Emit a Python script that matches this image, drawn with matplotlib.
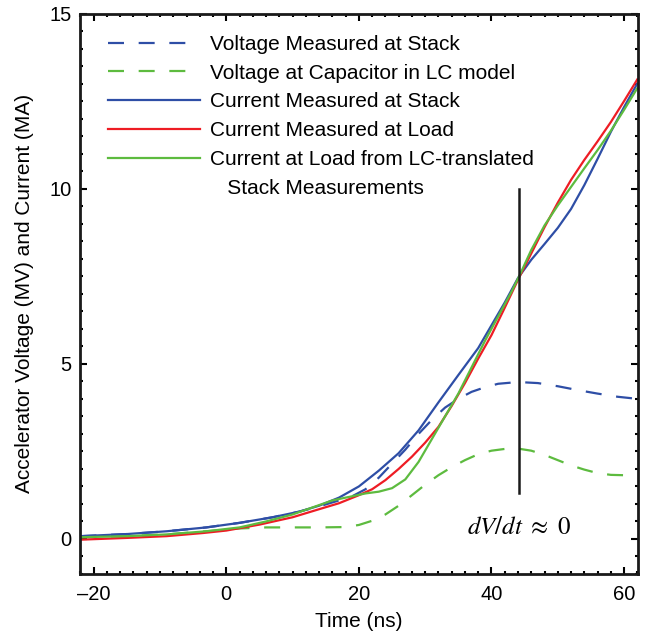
import matplotlib
matplotlib.use('Agg')
import matplotlib.pyplot as plt
from matplotlib.ticker import MultipleLocator, FuncFormatter

plt.rcParams['font.family'] = ['Liberation Sans', 'DejaVu Sans']
plt.rcParams['mathtext.fontset'] = 'stix'

# voltage measured at stack (blue dashed)
t_vstack = [-22, -15, -9, -3, 2, 7, 11, 14, 17, 19, 21, 23, 25, 27, 29, 31, 33, 35,
            37, 39, 41, 44, 47, 50, 53, 56, 59, 62]
v_stack = [0.08, 0.14, 0.22, 0.33, 0.46, 0.62, 0.78, 0.93, 1.1, 1.22, 1.42, 1.75, 2.15,
           2.55, 3.0, 3.4, 3.75, 4.0, 4.2, 4.33, 4.43, 4.48, 4.45, 4.36, 4.25, 4.15, 4.06, 4.0]

# voltage at capacitor in LC model (green dashed)
t_vcap = [-22, -15, -9, -3, 2, 6, 10, 14, 18, 20, 22, 24, 26, 28, 30, 32, 34, 36, 38,
          40, 42, 44, 46, 48, 50, 52, 54, 56, 58, 60, 62]
v_cap = [0.05, 0.08, 0.13, 0.22, 0.3, 0.33, 0.33, 0.33, 0.34, 0.4, 0.52, 0.7, 0.95, 1.25,
         1.55, 1.82, 2.05, 2.25, 2.42, 2.52, 2.57, 2.58, 2.52, 2.4, 2.25, 2.1, 1.98, 1.88,
         1.83, 1.82, 1.84]

# current measured at stack (blue)
t_istack = [-22, -15, -9, -3, 2, 7, 11, 14, 17, 20, 23, 26, 29, 32, 35, 38, 40, 42, 44,
            46, 48, 50, 52, 54, 56, 58, 60, 62]
i_stack = [0.08, 0.14, 0.22, 0.33, 0.46, 0.62, 0.78, 0.95, 1.18, 1.5, 1.95, 2.45, 3.1,
           3.9, 4.68, 5.45, 6.1, 6.75, 7.45, 7.97, 8.42, 8.88, 9.42, 10.1, 10.85, 11.62,
           12.33, 13.0]

# current measured at load (red)
t_iload = [-22, -15, -9, -3.5, 0, 5, 10, 14, 17, 20, 22, 24, 26, 28, 30, 32, 34, 36, 38,
           40, 42, 44, 46, 48, 50, 52, 54, 56, 58, 60, 62]
i_load = [-0.02, 0.03, 0.08, 0.17, 0.24, 0.41, 0.62, 0.85, 1.02, 1.25, 1.42, 1.68, 2.0,
          2.35, 2.75, 3.2, 3.8, 4.45, 5.15, 5.82, 6.6, 7.4, 8.15, 8.9, 9.6, 10.25, 10.82,
          11.35, 11.9, 12.5, 13.12]

# current at load from LC-translated stack measurements (green)
t_ilc = [-22, -15, -9, -3, 2, 6, 10, 13, 16, 19, 21, 23, 25, 27, 29, 31, 33, 35, 37, 39,
         41, 43, 44.3, 46, 48, 50, 52, 54, 56, 58, 60, 62]
i_lc = [0.05, 0.08, 0.13, 0.22, 0.33, 0.5, 0.7, 0.9, 1.1, 1.22, 1.3, 1.35, 1.45, 1.7, 2.2,
        2.85, 3.5, 4.15, 4.9, 5.65, 6.35, 7.05, 7.55, 8.25, 8.95, 9.52, 10.05, 10.58, 11.1,
        11.65, 12.25, 12.87]

labels = ['Voltage Measured at Stack',
          'Voltage at Capacitor in LC model',
          'Current Measured at Stack',
          'Current Measured at Load',
          'Current at Load from LC-translated',
          '   Stack Measurements']

t_mark = 44.2
mark_y = [1.3, 10.0]

blue = '#2e4ea6'
green = '#5dbb3f'
red = '#ee1c24'

fig = plt.figure(figsize=(6.55, 6.35), dpi=100)
ax = fig.add_axes([80 / 655, 1 - 574 / 635, 558 / 655, 560.5 / 635])

lw = 1.6
dash = (7.2, 6.6)
ax.plot(t_vstack, v_stack, color=blue, lw=lw, dashes=dash, label=labels[0])
ax.plot(t_vcap, v_cap, color=green, lw=lw, dashes=dash, label=labels[1])
ax.plot(t_istack, i_stack, color=blue, lw=lw, label=labels[2])
ax.plot(t_iload, i_load, color=red, lw=lw, label=labels[3])
ax.plot(t_ilc, i_lc, color=green, lw=lw, label=labels[4])
# second line of the last legend entry
ax.plot([], [], color='none', label=labels[5])

ax.plot([t_mark, t_mark], mark_y, color='#1a1a1a', lw=1.8)
ax.text(t_mark, 0.33, r'$dV/dt\ \approx\ 0$', fontsize=18, ha='center', va='center')

ax.set_xlim(-22.07, 62.1)
ax.set_ylim(-1, 15)
ax.xaxis.set_major_locator(MultipleLocator(20))
ax.xaxis.set_minor_locator(MultipleLocator(2))
ax.yaxis.set_major_locator(MultipleLocator(5))
ax.yaxis.set_minor_locator(MultipleLocator(0.5))
ax.tick_params(which='both', direction='in', top=True, right=True, labelsize=14.5, width=1.5)
ax.tick_params(which='major', length=5)
ax.tick_params(which='minor', length=2.5)
ax.tick_params(axis='x', pad=8)
ax.tick_params(axis='y', pad=6)
ax.xaxis.set_major_formatter(FuncFormatter(
    lambda v, p: ('\u2013%d' % -v) if v < 0 else '%d' % v))
for s in ax.spines.values():
    s.set_linewidth(2)
    s.set_color('#1a1a1a')

ax.set_xlabel('Time (ns)', fontsize=15, labelpad=6)
ax.set_ylabel('Accelerator Voltage (MV) and Current (MA)', fontsize=15, labelpad=11)

leg = ax.legend(loc='upper left', bbox_to_anchor=(0.0507, 0.962), frameon=False,
                fontsize=15, handlelength=4.4, handletextpad=0.48, labelspacing=0.47,
                borderpad=0, borderaxespad=0)

fig.savefig('out.png', dpi=100)
